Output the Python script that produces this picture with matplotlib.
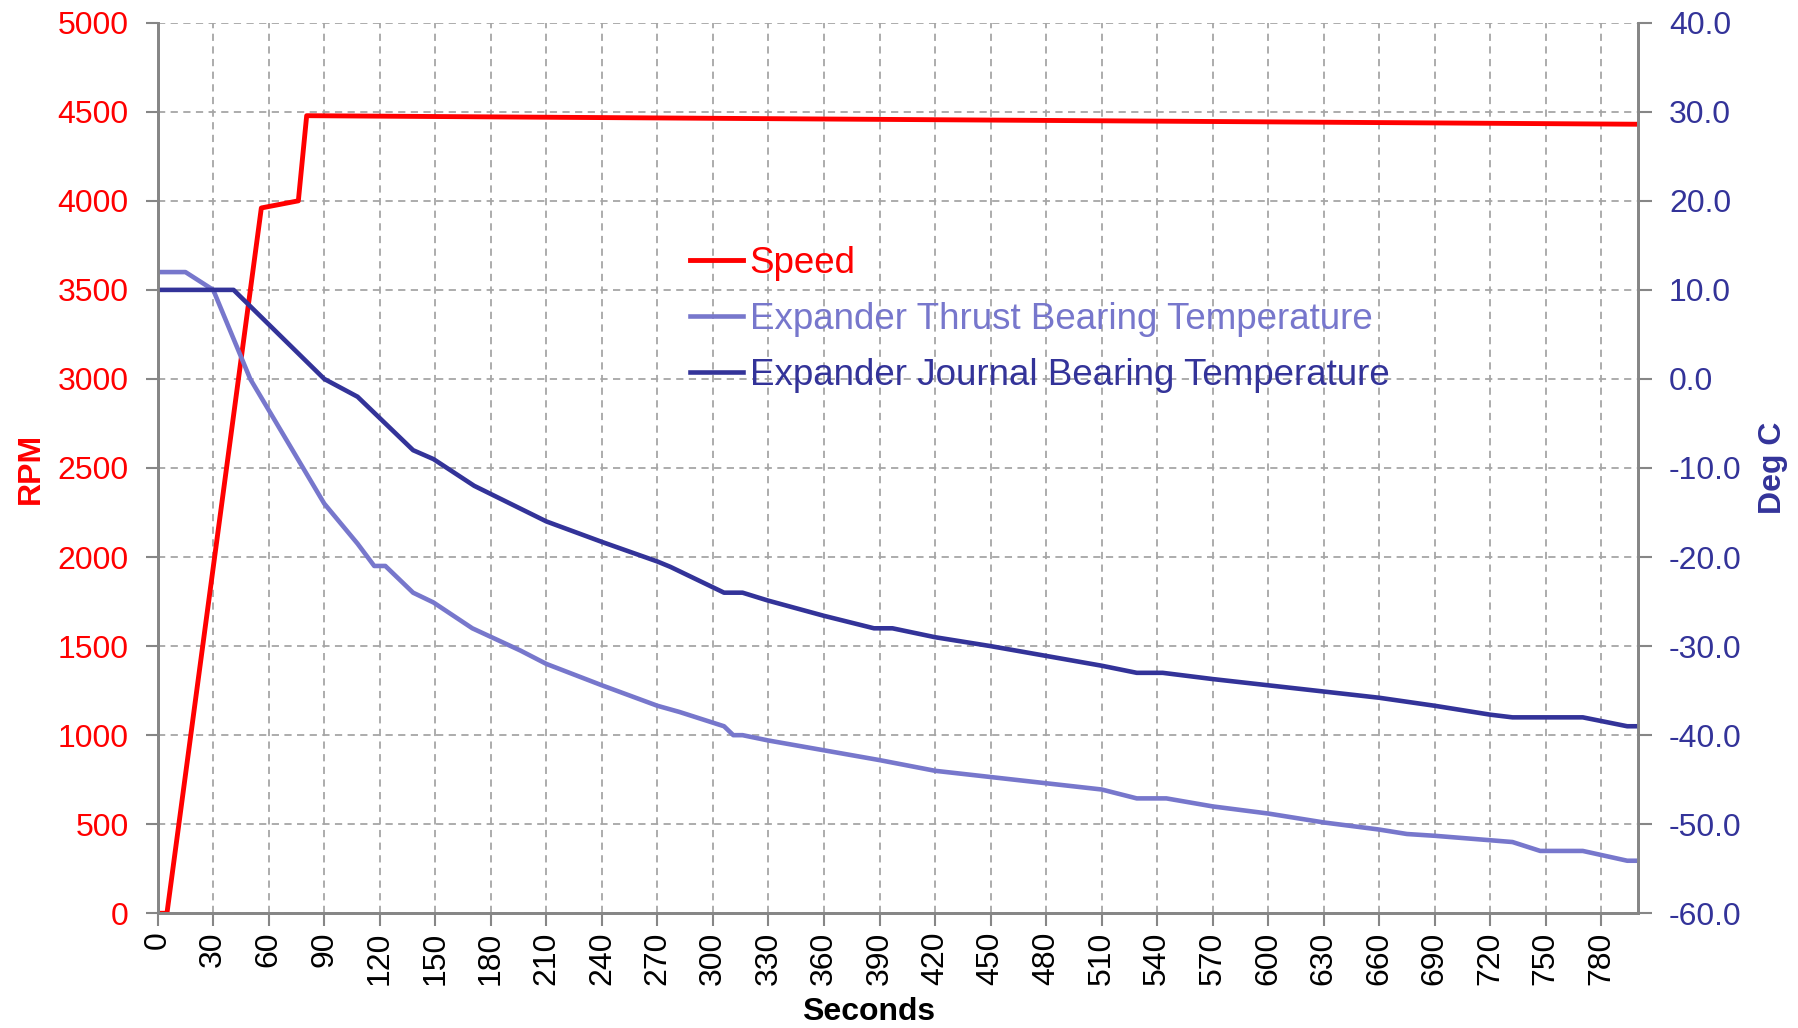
import numpy as np
import matplotlib
matplotlib.use('Agg')
import matplotlib.pyplot as plt

plt.rcParams['font.family'] = ['Liberation Sans', 'DejaVu Sans']

# speed (RPM) vs seconds
speed_t = [0, 5, 56, 76, 80.5, 800]
speed = [0, 0, 3960, 4000, 4478, 4430]

# thrust bearing temperature (deg C)
thrust_t = [0, 15, 30, 50, 90, 108, 117, 123, 138, 149, 170, 196, 210, 240, 270, 282,
            306, 311, 316, 330, 360, 390, 420, 450, 480, 510, 529, 545, 570, 600, 630,
            660, 675, 690, 720, 732, 747, 770, 794, 800]
thrust = [12, 12, 10, 0, -14, -18.5, -21, -21, -24, -25.1, -28, -30.5, -32, -34.4, -36.7, -37.4,
          -39, -40, -40, -40.6, -41.7, -42.8, -44, -44.7, -45.4, -46.1, -47.1, -47.1, -48, -48.8, -49.8,
          -50.6, -51.1, -51.3, -51.8, -52, -53, -53, -54.1, -54.1]

# journal bearing temperature (deg C)
journal_t = [0, 41, 90, 108, 138, 149, 171, 210, 240, 270, 277, 306, 316, 330, 360, 387, 397,
             420, 450, 480, 510, 529, 543, 570, 600, 630, 660, 690, 720, 732, 770, 794, 800]
journal = [10, 10, 0, -2, -8, -9, -12, -16, -18.3, -20.5, -21.1, -24, -24, -24.9, -26.6, -28, -28,
           -29, -30, -31.1, -32.2, -33, -33, -33.7, -34.4, -35.1, -35.8, -36.7, -37.7, -38, -38, -39, -39]

x_ticks = list(range(0, 781, 30))
rpm_ticks = list(range(0, 5001, 500))
temp_ticks = list(range(-60, 41, 10))

RED = '#FF0000'
LIGHT = '#7777CC'
DARK = '#333399'
AXCOL = '#868686'
GRIDCOL = '#A6A6A6'

fig = plt.figure(figsize=(17.98, 10.28), dpi=100)
ax = fig.add_axes([0.0877, 0.1116, 0.8235, 0.8663])
ax2 = ax.twinx()

l1, = ax.plot(speed_t, speed, color=RED, lw=3.5, label='Speed')
l2, = ax2.plot(thrust_t, thrust, color=LIGHT, lw=3.3, label='Expander Thrust Bearing Temperature')
l3, = ax2.plot(journal_t, journal, color=DARK, lw=3.3, label='Expander Journal Bearing Temperature')

ax.set_xlim(0, 800)
ax.set_ylim(0, 5000)
ax2.set_ylim(-60, 40)

ax.set_xticks(x_ticks)
ax.set_xticklabels([str(v) for v in x_ticks], rotation=90)
ax.set_yticks(rpm_ticks)
ax2.set_yticks(temp_ticks)
ax2.set_yticklabels(['%.1f' % v for v in temp_ticks])

ax.grid(True, color=GRIDCOL, linestyle=(0, (4, 3)), linewidth=1.3)

ax.tick_params(axis='x', direction='out', length=9, width=1.5, color=AXCOL,
               labelsize=23, labelcolor='black', pad=4)
ax.tick_params(axis='y', direction='out', length=9, width=1.5, color=AXCOL,
               labelsize=23, labelcolor=RED, pad=12)
ax2.tick_params(axis='y', direction='out', length=10, width=1.5, color=AXCOL,
                labelsize=23, labelcolor=DARK, pad=12)

for a in (ax, ax2):
    a.spines['top'].set_visible(False)
    for s in ('left', 'right', 'bottom'):
        a.spines[s].set_color(AXCOL)
        a.spines[s].set_linewidth(2)

ax.set_ylabel('RPM', color=RED, fontsize=23, fontweight='bold')
ax.yaxis.set_label_coords(-0.0758, 0.5)
ax2.set_ylabel('Deg C', color=DARK, fontsize=23, fontweight='bold')
ax2.yaxis.set_label_coords(1.081, 0.5)
ax.set_xlabel('Seconds', fontsize=23, fontweight='bold')
ax.xaxis.set_label_coords(0.48, -0.094)

leg = ax2.legend(handles=[l1, l2, l3], loc='upper left', bbox_to_anchor=(0.3735, 0.779),
                 bbox_transform=fig.transFigure, frameon=False, fontsize=26.5,
                 handlelength=1.45, handletextpad=0.17, labelspacing=0.58, borderpad=0)
for txt, col in zip(leg.get_texts(), [RED, LIGHT, DARK]):
    txt.set_color(col)

fig.savefig('out.png', dpi=100)
